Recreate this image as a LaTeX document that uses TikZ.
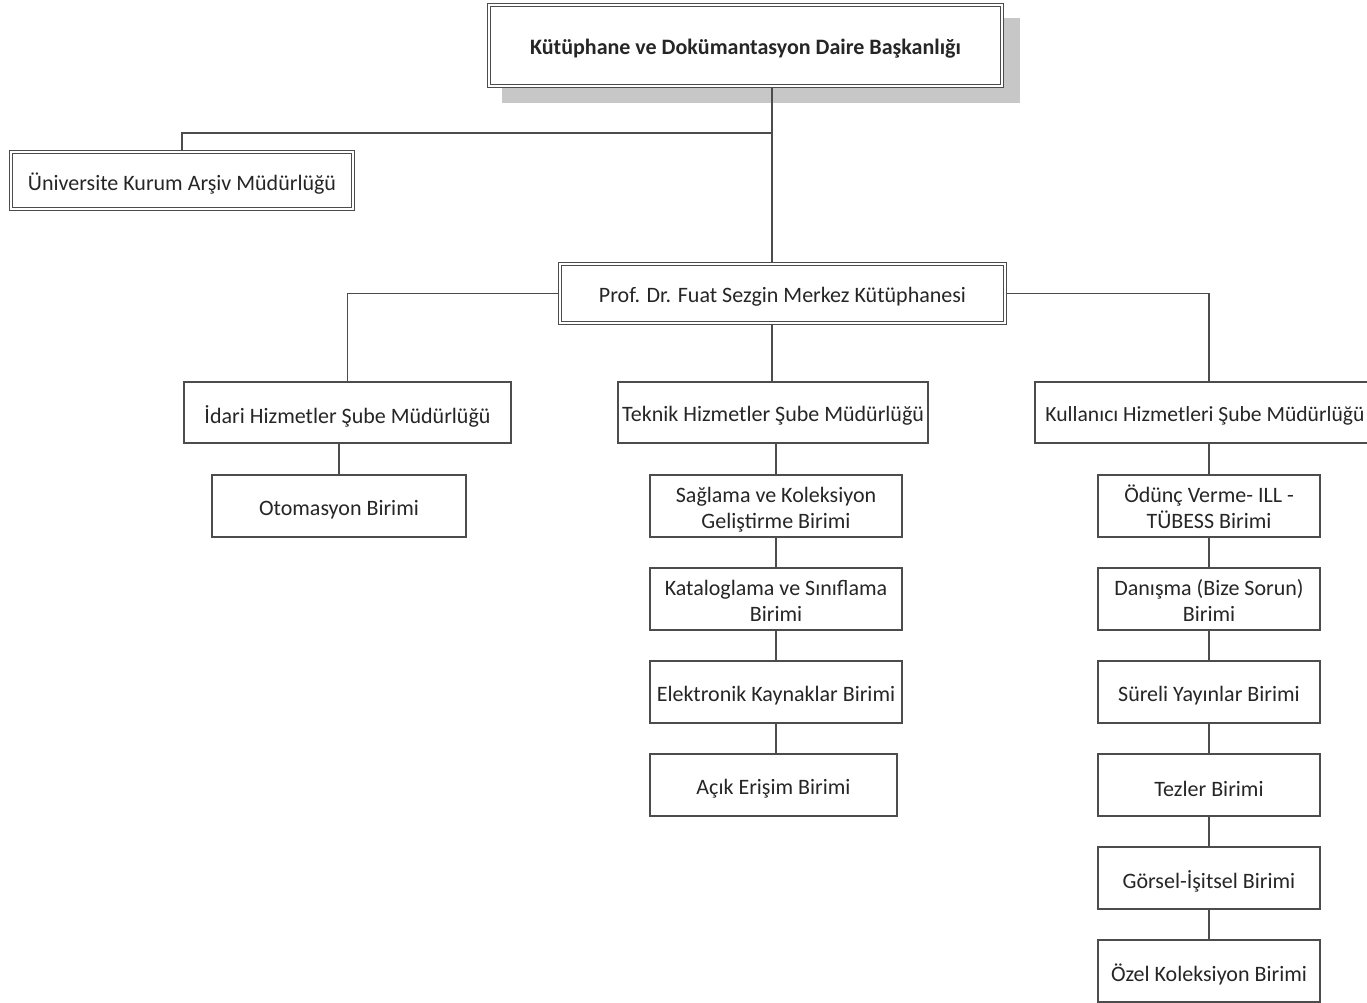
\documentclass[tikz,border=0pt]{standalone}
\usepackage{fontspec}
\setmainfont{Carlito}
\newcommand{\onel}[1]{\raisebox{-3.5pt}[\height][\depth]{#1}}
\newcommand{\twol}[2]{\raisebox{-4pt}[\height][\depth]{\begin{tabular}{@{}c@{}}#1\\#2\end{tabular}}}
\begin{document}
\begin{tikzpicture}[x=1pt,y=-1pt,
  every node/.style={font=\fontsize{22}{26}\selectfont, text=black!85},
  ubox/.style={draw=black!70, line width=1.1pt, fill=white, inner sep=0pt, align=center},
  dbox/.style={ubox, double=white, double distance=2.2pt, line width=1.1pt},
  conn/.style={draw=black!70, line width=1.1pt}]
\useasboundingbox (0,0) rectangle (1367,1002);
\fill[white] (0,0) rectangle (1367,1002);
\begin{scope}
\clip (0,0) rectangle (1367,1002);
% shadow of top box
\fill[black!22] (502,18) rectangle (1020,103);
\node[dbox, minimum width=513pt, minimum height=81pt, font=\fontsize{22}{26}\selectfont\bfseries] (top) at (745.5,45.5) {\onel{Kütüphane ve Dokümantasyon Daire Başkanlığı}};
\node[dbox, minimum width=342pt, minimum height=57pt] (arch) at (182,180.5) {\onel{Üniversite Kurum Arşiv Müdürlüğü}};
\node[dbox, minimum width=445pt, minimum height=59pt] (prof) at (782.5,293.5) {\onel{Prof. Dr. Fuat Sezgin Merkez Kütüphanesi}};
\node[ubox, minimum width=327pt, minimum height=61pt] (idari) at (347.5,412.5) {\onel{İdari Hizmetler Şube Müdürlüğü}};
\node[ubox, minimum width=310pt, minimum height=61pt] (tek) at (773,412.5) {\onel{Teknik Hizmetler Şube Müdürlüğü}};
\node[ubox, minimum width=348pt, minimum height=61pt] (kul) at (1209,412.5) {};
\node[font=\fontsize{21.6}{26}\selectfont, inner sep=0pt] (kultxt) at (1205,412.5) {\onel{Kullanıcı Hizmetleri Şube Müdürlüğü}};
\node[ubox, minimum width=254pt, minimum height=62pt] (oto) at (339,506) {\onel{Otomasyon Birimi}};
% teknik column
\node[ubox, minimum width=252pt, minimum height=62pt] (t1) at (776,506) {\twol{Sağlama ve Koleksiyon}{Geliştirme Birimi}};
\node[ubox, minimum width=252pt, minimum height=62pt] (t2) at (776,599) {\twol{Kataloglama ve Sınıflama}{Birimi}};
\node[ubox, minimum width=252pt, minimum height=62pt] (t3) at (776,692) {\onel{Elektronik Kaynaklar Birimi}};
\node[ubox, minimum width=247pt, minimum height=62pt] (t4) at (773.5,785) {\onel{Açık Erişim Birimi}};
% kullanici column
\node[ubox, minimum width=222pt, minimum height=62pt] (k1) at (1209,506) {\twol{Ödünç Verme- ILL -}{TÜBESS Birimi}};
\node[ubox, minimum width=222pt, minimum height=62pt] (k2) at (1209,599) {\twol{Danışma (Bize Sorun)}{Birimi}};
\node[ubox, minimum width=222pt, minimum height=62pt] (k3) at (1209,692) {\onel{Süreli Yayınlar Birimi}};
\node[ubox, minimum width=222pt, minimum height=62pt] (k4) at (1209,785) {\onel{Tezler Birimi}};
\node[ubox, minimum width=222pt, minimum height=62pt] (k5) at (1209,878) {\onel{Görsel-İşitsel Birimi}};
\node[ubox, minimum width=222pt, minimum height=62pt] (k6) at (1209,971) {\onel{Özel Koleksiyon Birimi}};
% connectors
\coordinate (j1) at (772,133);
\path[conn] (top.south -| j1) -- (j1) -- (prof.north -| j1);
\path[conn] (j1) -| (arch.north);
\path[conn] (prof.west) -| (idari.north);
\path[conn] (prof.east) -| (kul.north);
\path[conn] (prof.south -| j1) -- (tek.north -| j1);
\path[conn] (idari.south -| oto.north) -- (oto.north);
\path[conn] (tek.south -| t1.north) -- (t1.north);
\path[conn] (t1.south) -- (t2.north);
\path[conn] (t2.south) -- (t3.north);
\path[conn] (t3.south) -- (t4.north -| t3.south);
\path[conn] (kul.south) -- (k1.north);
\path[conn] (k1.south) -- (k2.north);
\path[conn] (k2.south) -- (k3.north);
\path[conn] (k3.south) -- (k4.north);
\path[conn] (k4.south) -- (k5.north);
\path[conn] (k5.south) -- (k6.north);
\end{scope}
\end{tikzpicture}
\end{document}
